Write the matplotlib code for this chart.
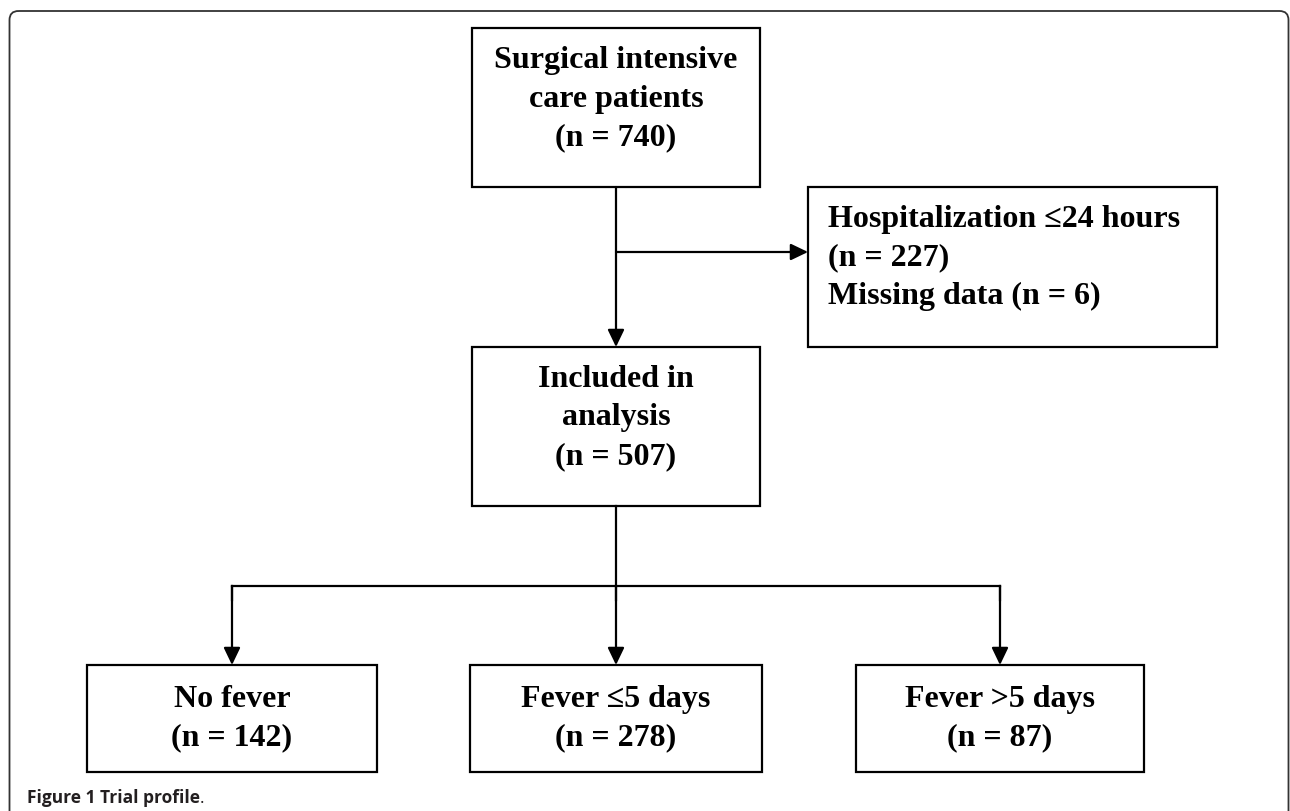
import matplotlib.pyplot as plt
from matplotlib.patches import Rectangle, FancyBboxPatch

# flow chart content
main_labels = ["Surgical intensive\ncare patients", "Included in\nanalysis"]
main_counts = [740, 507]
excluded_labels = ["Hospitalization \u226424 hours", "Missing data"]
excluded_counts = [227, 6]
group_labels = ["No fever", "Fever \u22645 days", "Fever >5 days"]
group_counts = [142, 278, 87]

SERIF = "Liberation Serif"
FS = 23
LINE = 38.5
LW = 1.6


def box(ax, x0, y0, x1, y1):
    ax.add_patch(Rectangle((x0, y0), x1 - x0, y1 - y0, fill=False,
                           edgecolor="black", linewidth=LW))


def lines_in_box(ax, lines, x, top, ha="center"):
    for i, s in enumerate(lines):
        ax.text(x, top + 40 + i * LINE, s, ha=ha, va="baseline",
                fontsize=FS, fontweight="bold", family=SERIF)


def arrow(ax, x0, y0, x1, y1):
    ax.annotate("", xy=(x1, y1), xytext=(x0, y0),
                arrowprops=dict(arrowstyle="-|>,head_length=0.75,head_width=0.36",
                                mutation_scale=14, color="black", lw=LW,
                                shrinkA=0, shrinkB=0))


fig = plt.figure(figsize=(12.9, 8.11), dpi=100)
ax = fig.add_axes([0, 0, 1, 1])
ax.set_xlim(0, 1290)
ax.set_ylim(811, 0)
ax.axis("off")

# outer frame
ax.add_patch(FancyBboxPatch((9.5, 11), 1279, 900, boxstyle="round,pad=0,rounding_size=9",
                            fill=False, edgecolor="#333333", linewidth=1.3))

cx = 616

# top box
box(ax, 472, 28, 760, 187)
lines_in_box(ax, main_labels[0].split("\n") + [f"(n = {main_counts[0]})"], cx, 28)

# side exclusion box
box(ax, 808, 187, 1217, 347)
side = [excluded_labels[0], f"(n = {excluded_counts[0]})",
        f"{excluded_labels[1]} (n = {excluded_counts[1]})"]
lines_in_box(ax, side, 828, 187, ha="left")

# trunk and branch
arrow(ax, cx, 187, cx, 347)
arrow(ax, cx, 252, 808, 252)

# included box
box(ax, 472, 347, 760, 506)
lines_in_box(ax, main_labels[1].split("\n") + [f"(n = {main_counts[1]})"], cx, 347)

# split into groups
group_x = [232, 616, 1000]
group_w = [290, 292, 288]
ax.plot([cx, cx], [506, 586], color="black", lw=LW)
ax.plot([group_x[0], group_x[-1]], [586, 586], color="black", lw=LW,
        solid_capstyle="projecting")
for gx, gw, lab, n in zip(group_x, group_w, group_labels, group_counts):
    ax.plot([gx, gx], [586, 600], color="black", lw=LW, solid_capstyle="projecting")
    arrow(ax, gx, 586, gx, 665)
    box(ax, gx - gw / 2, 665, gx + gw / 2, 772)
    lines_in_box(ax, [lab, f"(n = {n})"], gx, 667)

# caption
t = ax.text(27, 803, "Figure 1 Trial profile", ha="left", va="baseline",
            fontsize=12.5, fontweight="bold", family="Open Sans", color="#231f20")
ax.annotate(".", xy=(1, 0), xycoords=t, ha="left", va="bottom",
            fontsize=12.5, family="Open Sans", color="#231f20")

fig.savefig("out.png", dpi=100)
